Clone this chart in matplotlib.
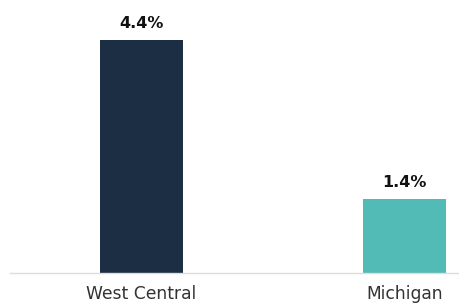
import matplotlib.pyplot as plt

regions = ["West Central", "Michigan"]
rates = [4.4, 1.4]
labels = ["4.4%", "1.4%"]
colors = ["#1b2e44", "#52bbb5"]

fig = plt.figure(figsize=(4.6, 3.03), dpi=100)
ax = fig.add_axes([0.0207, 0.0974, 0.979, 0.877])

x = range(len(regions))
ax.bar(x, rates, width=0.315, color=colors)

for i, (v, t) in enumerate(zip(rates, labels)):
    ax.text(i, v + 0.17, t, ha="center", va="bottom", fontsize=11.5,
            fontweight="bold", color="#111111")

ax.set_xlim(-0.5, 1.21)
ax.set_ylim(0, 5)
ax.set_xticks(list(x))
ax.set_xticklabels(regions, fontsize=12.3, color="#333333")
ax.tick_params(axis="x", length=0, pad=8)
ax.set_yticks([])
for s in ["top", "right", "left"]:
    ax.spines[s].set_visible(False)
ax.spines["bottom"].set_color("#dddddd")
ax.spines["bottom"].set_linewidth(1)

fig.savefig("out.png", dpi=100)
